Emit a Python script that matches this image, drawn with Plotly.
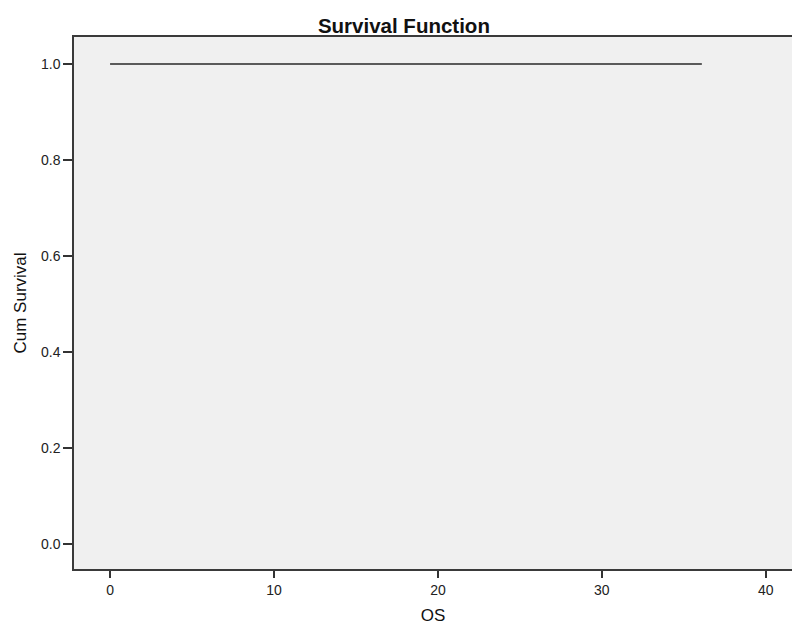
import plotly.graph_objects as go

# Data
os_time = [0, 36.1]
cum_survival = [1.0, 1.0]
x_ticks = [0, 10, 20, 30, 40]
y_ticks = [0.0, 0.2, 0.4, 0.6, 0.8, 1.0]
y_tick_labels = ["0.0", "0.2", "0.4", "0.6", "0.8", "1.0"]

fig = go.Figure()
fig.add_trace(go.Scatter(
    x=os_time, y=cum_survival, mode="lines",
    line=dict(color="#5a5a5a", width=2, shape="hv"),
    showlegend=False, hoverinfo="skip",
))

tick_font = dict(family="Liberation Sans, Arial", size=14, color="#222222")
fig.update_layout(
    width=792, height=625,
    margin=dict(l=74, r=0, t=37, b=56),
    paper_bgcolor="white",
    plot_bgcolor="#F0F0F0",
    title=dict(text="<b>Survival Function</b>", x=0.51, xanchor="center", y=0.958, yanchor="middle",
               font=dict(family="Liberation Sans, Arial", size=20.5, color="#111111")),
    xaxis=dict(
        range=[-2.2, 41.6], tickvals=x_ticks, ticks="outside", ticklen=7, tickwidth=1.5, tickcolor="#333333",
        showline=True, linecolor="#3a3a3a", linewidth=1.5, mirror=True,
        showgrid=False, zeroline=False, tickfont=tick_font,
        title=dict(text="OS", font=dict(family="Liberation Sans, Arial", size=17, color="#111111"), standoff=16),
    ),
    yaxis=dict(
        range=[-0.052, 1.056], tickvals=y_ticks, ticktext=y_tick_labels, ticks="outside", ticklen=9, tickwidth=1.5,
        tickcolor="#333333", showline=True, linecolor="#3a3a3a", linewidth=1.5,
        showgrid=False, zeroline=False, tickfont=tick_font,
        title=dict(text="Cum Survival", font=dict(family="Liberation Sans, Arial", size=17, color="#111111"), standoff=10),
    ),
)

fig.write_html("out.html", config={"displayModeBar": False},
               post_script="document.body.style.margin='0';")
